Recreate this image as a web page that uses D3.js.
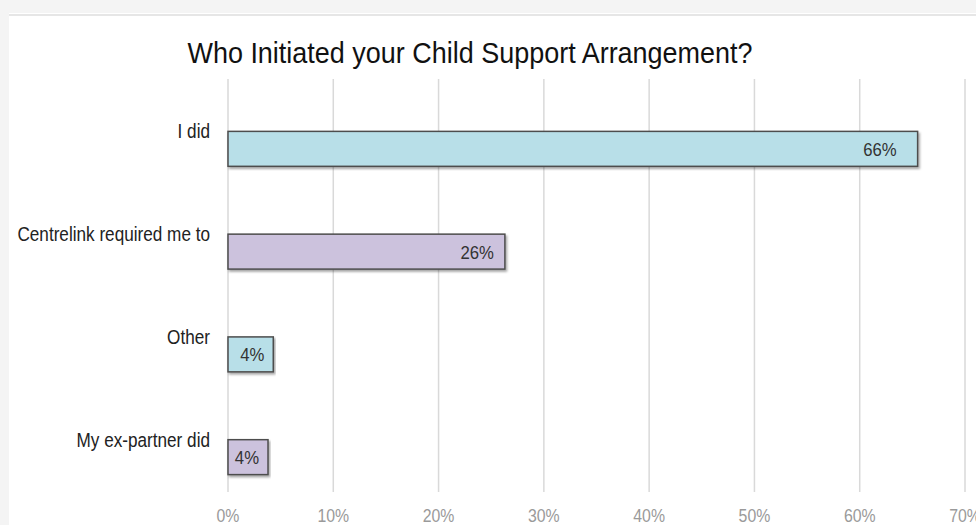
<!DOCTYPE html>
<html>
<head>
<meta charset="utf-8">
<script src="https://cdn.jsdelivr.net/npm/d3@7"></script>
<style>
  body { margin: 0; background: #f4f4f4; }
  svg { display: block; font-family: "Liberation Sans", Arial, sans-serif; }
</style>
</head>
<body>
<script>
var categories = ["I did", "Centrelink required me to", "Other", "My ex-partner did"];
var values = [65.5, 26.3, 4.3, 3.8];
var valueLabels = ["66%", "26%", "4%", "4%"];
var ticks = [0, 10, 20, 30, 40, 50, 60, 70];
var barColors = ["#b8dfe8", "#ccc2dd", "#b8dfe8", "#ccc2dd"];

var w = 976, h = 525;
var narrow = 0.88; // the source font is a condensed one

var svg = d3.select("body").append("svg")
    .attr("width", w)
    .attr("height", h);

// panel
svg.append("rect")
    .attr("x", 9).attr("y", 13)
    .attr("width", w - 9).attr("height", h - 13)
    .attr("fill", "#ffffff");
svg.append("line")
    .attr("x1", 9).attr("x2", w)
    .attr("y1", 15).attr("y2", 15)
    .attr("stroke", "#e6e6e6").attr("stroke-width", 2);

var defs = svg.append("defs");
var f = defs.append("filter").attr("id", "shadow")
    .attr("x", "-5%").attr("y", "-20%").attr("width", "110%").attr("height", "160%");
f.append("feDropShadow")
    .attr("dx", 1.5).attr("dy", 2)
    .attr("stdDeviation", 1.2)
    .attr("flood-color", "#000").attr("flood-opacity", 0.35);

var xScale = d3.scaleLinear().domain([0, 70]).range([228, 965]);

var yScale = d3.scaleBand()
    .domain(categories)
    .range([80, 526])
    .paddingInner(0.66)
    .paddingOuter(0.5);

function place(x, y, sx) {
    return "translate(" + x + "," + y + ") scale(" + sx + ",1)";
}

// title
svg.append("text")
    .attr("transform", place(470, 63, 0.93))
    .attr("text-anchor", "middle")
    .attr("font-size", 29)
    .attr("fill", "#111")
    .text("Who Initiated your Child Support Arrangement?");

// gridlines
svg.append("g").selectAll("line")
    .data(ticks)
    .join("line")
    .attr("x1", function(d) { return xScale(d); })
    .attr("x2", function(d) { return xScale(d); })
    .attr("y1", 79).attr("y2", 492)
    .attr("stroke", "#d9d9d9")
    .attr("stroke-width", 1.5);

// x tick labels
svg.append("g").selectAll("text")
    .data(ticks)
    .join("text")
    .attr("transform", function(d) { return place(xScale(d), 522, narrow); })
    .attr("text-anchor", "middle")
    .attr("font-size", 18)
    .attr("fill", "#9a9a9a")
    .text(function(d) { return d + "%"; });

// bars
svg.append("g").selectAll("rect")
    .data(values)
    .join("rect")
    .attr("x", xScale(0))
    .attr("y", function(d, i) { return yScale(categories[i]); })
    .attr("width", function(d) { return xScale(d) - xScale(0); })
    .attr("height", yScale.bandwidth())
    .attr("fill", function(d, i) { return barColors[i]; })
    .attr("stroke", "#4d4d4d")
    .attr("stroke-width", 1.5)
    .attr("filter", "url(#shadow)");

// value labels
svg.append("g").selectAll("text")
    .data(values)
    .join("text")
    .attr("transform", function(d, i) {
        var off = d > 50 ? 21 : (d > 10 ? 11 : 9);
        return place(xScale(d) - off, yScale(categories[i]) + yScale.bandwidth() / 2 + 7, narrow);
    })
    .attr("text-anchor", "end")
    .attr("font-size", 19)
    .attr("fill", "#333")
    .text(function(d, i) { return valueLabels[i]; });

// category labels
svg.append("g").selectAll("text")
    .data(categories)
    .join("text")
    .attr("transform", function(d) { return place(210, yScale(d) + 7, narrow); })
    .attr("text-anchor", "end")
    .attr("font-size", 19.5)
    .attr("fill", "#222")
    .text(function(d) { return d; });
</script>
</body>
</html>
